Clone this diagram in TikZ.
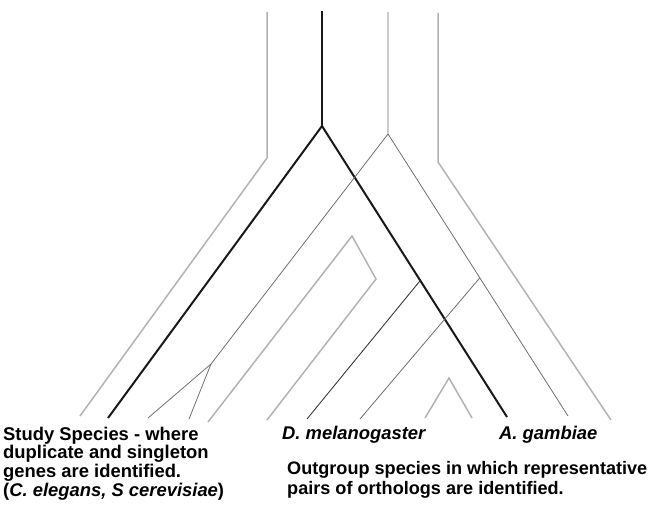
\documentclass[tikz,border=0pt]{standalone}
\usepackage{fontspec}
\setmainfont{Liberation Sans}
\usetikzlibrary{calc,positioning}
\definecolor{lgray}{HTML}{B2B2B2}
\definecolor{mgray}{HTML}{6E6E6E}
\definecolor{dgray}{HTML}{383838}

\begin{document}
\begin{tikzpicture}[x=1pt,y=-1pt,
  gene/.style={lgray,line width=1.5pt},
  orth/.style={mgray,line width=0.8pt},
  dmelline/.style={dgray,line width=0.9pt},
  study/.style={black!90,line width=2pt},
  lbl/.style={inner sep=0pt,font=\fontsize{18.4}{18.7}\selectfont\bfseries,align=left}]
\useasboundingbox (0,0) rectangle (652,508);
% outer gray copies
\coordinate (gLtop) at (267,12);
\coordinate (gLbend) at (267,158);
\coordinate (gLend) at (80,416);
\coordinate (gRtop) at (438,13);
\coordinate (gRbend) at (438,162);
\coordinate (gRend) at (611,420);
\draw[gene] (gLtop) -- (gLbend) -- (gLend);
\draw[gene] (gRtop) -- (gRbend) -- (gRend);
% study species tree
\coordinate (bTop) at (322,11);
\coordinate (bA) at (322,126);
\coordinate (bL) at (108,418);
\coordinate (bR) at (507,417);
\draw[study] (bTop) -- (bA);
\draw[study] (bL) -- (bA) -- (bR);
% thin tree
\coordinate (tTop) at (388,12);
\coordinate (tA) at (388,134);
\coordinate (tFork) at (211,364);
\coordinate (tF1) at (148,418);
\coordinate (tF2) at (189,419);
\coordinate (tR) at (568,416);
\draw[orth] (tTop) -- (tA) -- (tR);
\draw[orth] (tA) -- (tFork) -- (tF1);
\draw[orth] (tFork) -- (tF2);
% bracket
\coordinate (kL) at (208,422);
\coordinate (kA) at (352,236);
\coordinate (kC) at (376,279);
\coordinate (kE) at (267,420);
\draw[gene] (kL) -- (kA) -- (kC) -- (kE);
% joins to the branches
\coordinate (dEnd) at (307,419);
\coordinate (dJoin) at ($(bA)!0.531!(bR)$);
\draw[dmelline] (dEnd) -- (dJoin);
\coordinate (oEnd) at (360,419);
\coordinate (oJoin) at ($(tA)!0.51!(tR)$);
\draw[orth] (oEnd) -- (oJoin);
% small v
\coordinate (vL) at (425,418);
\coordinate (vA) at (449,378);
\coordinate (vR) at (472,418);
\draw[gene] (vL) -- (vA) -- (vR);
% labels
\node[lbl,anchor=north west] (study) at (3,426.5) {Study Species - where\\duplicate and singleton\\genes are identified.\\(\textit{C. elegans, S cerevisiae})};
\node[lbl,anchor=base west] (dmel) at (282,439) {\textit{D. melanogaster}};
\node[lbl,anchor=base west] (agam) at (499,439) {\textit{A. gambiae}};
\node[lbl,anchor=north west,font=\fontsize{18.1}{19.5}\selectfont\bfseries] (outg) at (287,461.5) {Outgroup species in which representative\\pairs of orthologs are identified.};
\end{tikzpicture}
\end{document}
